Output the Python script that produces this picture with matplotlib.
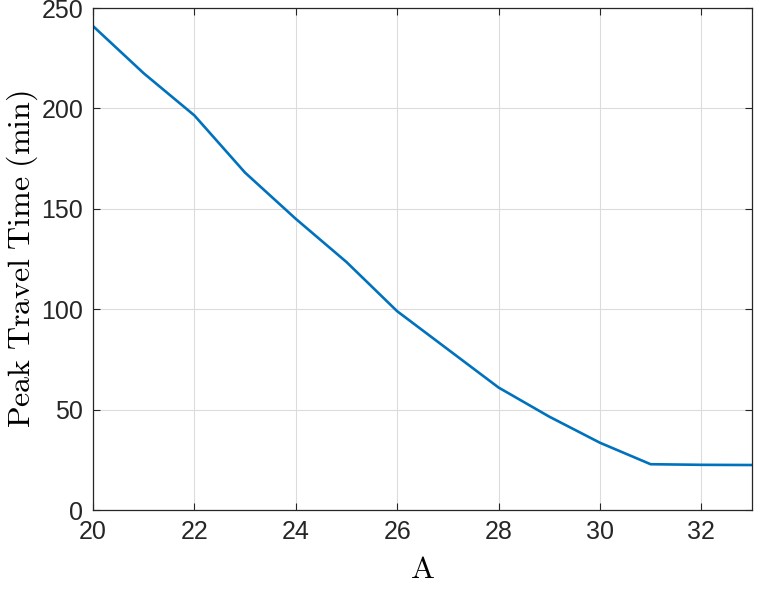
import matplotlib
matplotlib.use('Agg')
import matplotlib.pyplot as plt
import numpy as np

# values
A = [20, 21, 22, 23, 24, 25, 26, 27, 28, 29, 30, 31, 32, 33]
peak_time = [241, 217.5, 196.5, 168, 145, 123.5, 99, 80, 61, 46.5, 33.5, 22.8, 22.5, 22.4]

plt.rcParams['font.family'] = ['Liberation Sans', 'DejaVu Sans']
plt.rcParams['mathtext.fontset'] = 'cm'

fig = plt.figure(figsize=(7.65, 5.9), dpi=100)
ax = fig.add_axes([93/765, 80/590, (752-93)/765, (510-8)/590])

ax.plot(A, peak_time, color='#0072BD', linewidth=1.9)

ax.set_xlim(20, 33)
ax.set_ylim(0, 250)
ax.set_xticks([20, 22, 24, 26, 28, 30, 32])
ax.set_yticks([0, 50, 100, 150, 200, 250])
ax.grid(True, color='#dcdcdc', linewidth=0.8)
ax.set_axisbelow(True)
ax.tick_params(direction='in', length=5, labelsize=18, colors='#262626',
               top=True, right=True, labeltop=False, labelright=False, pad=7)
for s in ax.spines.values():
    s.set_color('#262626')
    s.set_linewidth(0.9)

ax.set_xlabel(r'$\mathrm{A}$', fontsize=23, labelpad=8)
ax.set_ylabel(r'$\mathrm{Peak\ Travel\ Time\ (min)}$', fontsize=23, labelpad=1)

fig.savefig('out.png', dpi=100)
